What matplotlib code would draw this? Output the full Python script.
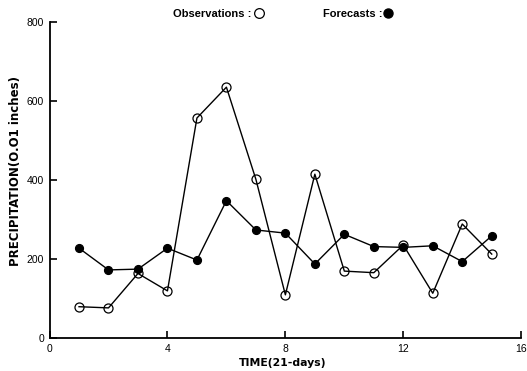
import matplotlib
matplotlib.use("Agg")
import matplotlib.pyplot as plt
from matplotlib.lines import Line2D

time = list(range(1, 16))
observations = [80, 77, 164, 120, 557, 635, 402, 110, 415, 170, 166, 236, 114, 289, 213]
forecasts = [228, 173, 175, 228, 198, 348, 274, 266, 188, 263, 232, 230, 234, 194, 259]
xticks = [0, 4, 8, 12, 16]
yticks = [0, 200, 400, 600, 800]

plt.rcParams['font.family'] = ['Liberation Sans', 'DejaVu Sans']

fig = plt.figure(figsize=(5.27, 3.71), dpi=100)
ax = fig.add_axes([0.094, 0.088, 0.895, 0.853])

ax.plot(time, forecasts, color='black', lw=1.0, marker='o', markersize=5.6,
        markerfacecolor='black', markeredgecolor='black', zorder=3)
ax.plot(time, observations, color='black', lw=1.0, marker='o', markersize=6.5,
        markerfacecolor='none', markeredgecolor='black', markeredgewidth=0.9, zorder=4)

ax.set_xlim(0, 16)
ax.set_ylim(0, 800)
ax.set_xticks(xticks)
ax.set_yticks(yticks)
for s in ['top', 'right']:
    ax.spines[s].set_visible(False)
for s in ['left', 'bottom']:
    ax.spines[s].set_linewidth(1.3)
ax.tick_params(direction='in', length=5, width=1.2, labelsize=7.5, pad=4)

ax.set_xlabel('TIME(21-days)', fontsize=7.8, fontweight='bold', family='DejaVu Sans')
ax.xaxis.set_label_coords(0.495, -0.062)
ax.set_ylabel('PRECIPITATION(O.O1 inches)', fontsize=8.5, fontweight='bold', family='DejaVu Sans')
ax.yaxis.set_label_coords(-0.059, 0.528)

fig.text(0.477, 0.963, 'Observations :', fontsize=8, fontweight='bold',
         ha='right', va='center')
fig.text(0.725, 0.963, 'Forecasts :', fontsize=8, fontweight='bold',
         ha='right', va='center')
fig.add_artist(Line2D([0.492], [0.965], transform=fig.transFigure, marker='o',
                      markersize=7, markerfacecolor='none', markeredgecolor='black',
                      markeredgewidth=0.9, linestyle='none'))
fig.add_artist(Line2D([0.736], [0.965], transform=fig.transFigure, marker='o',
                      markersize=6.5, markerfacecolor='black', markeredgecolor='black',
                      linestyle='none'))

fig.savefig('out.png', dpi=100)
